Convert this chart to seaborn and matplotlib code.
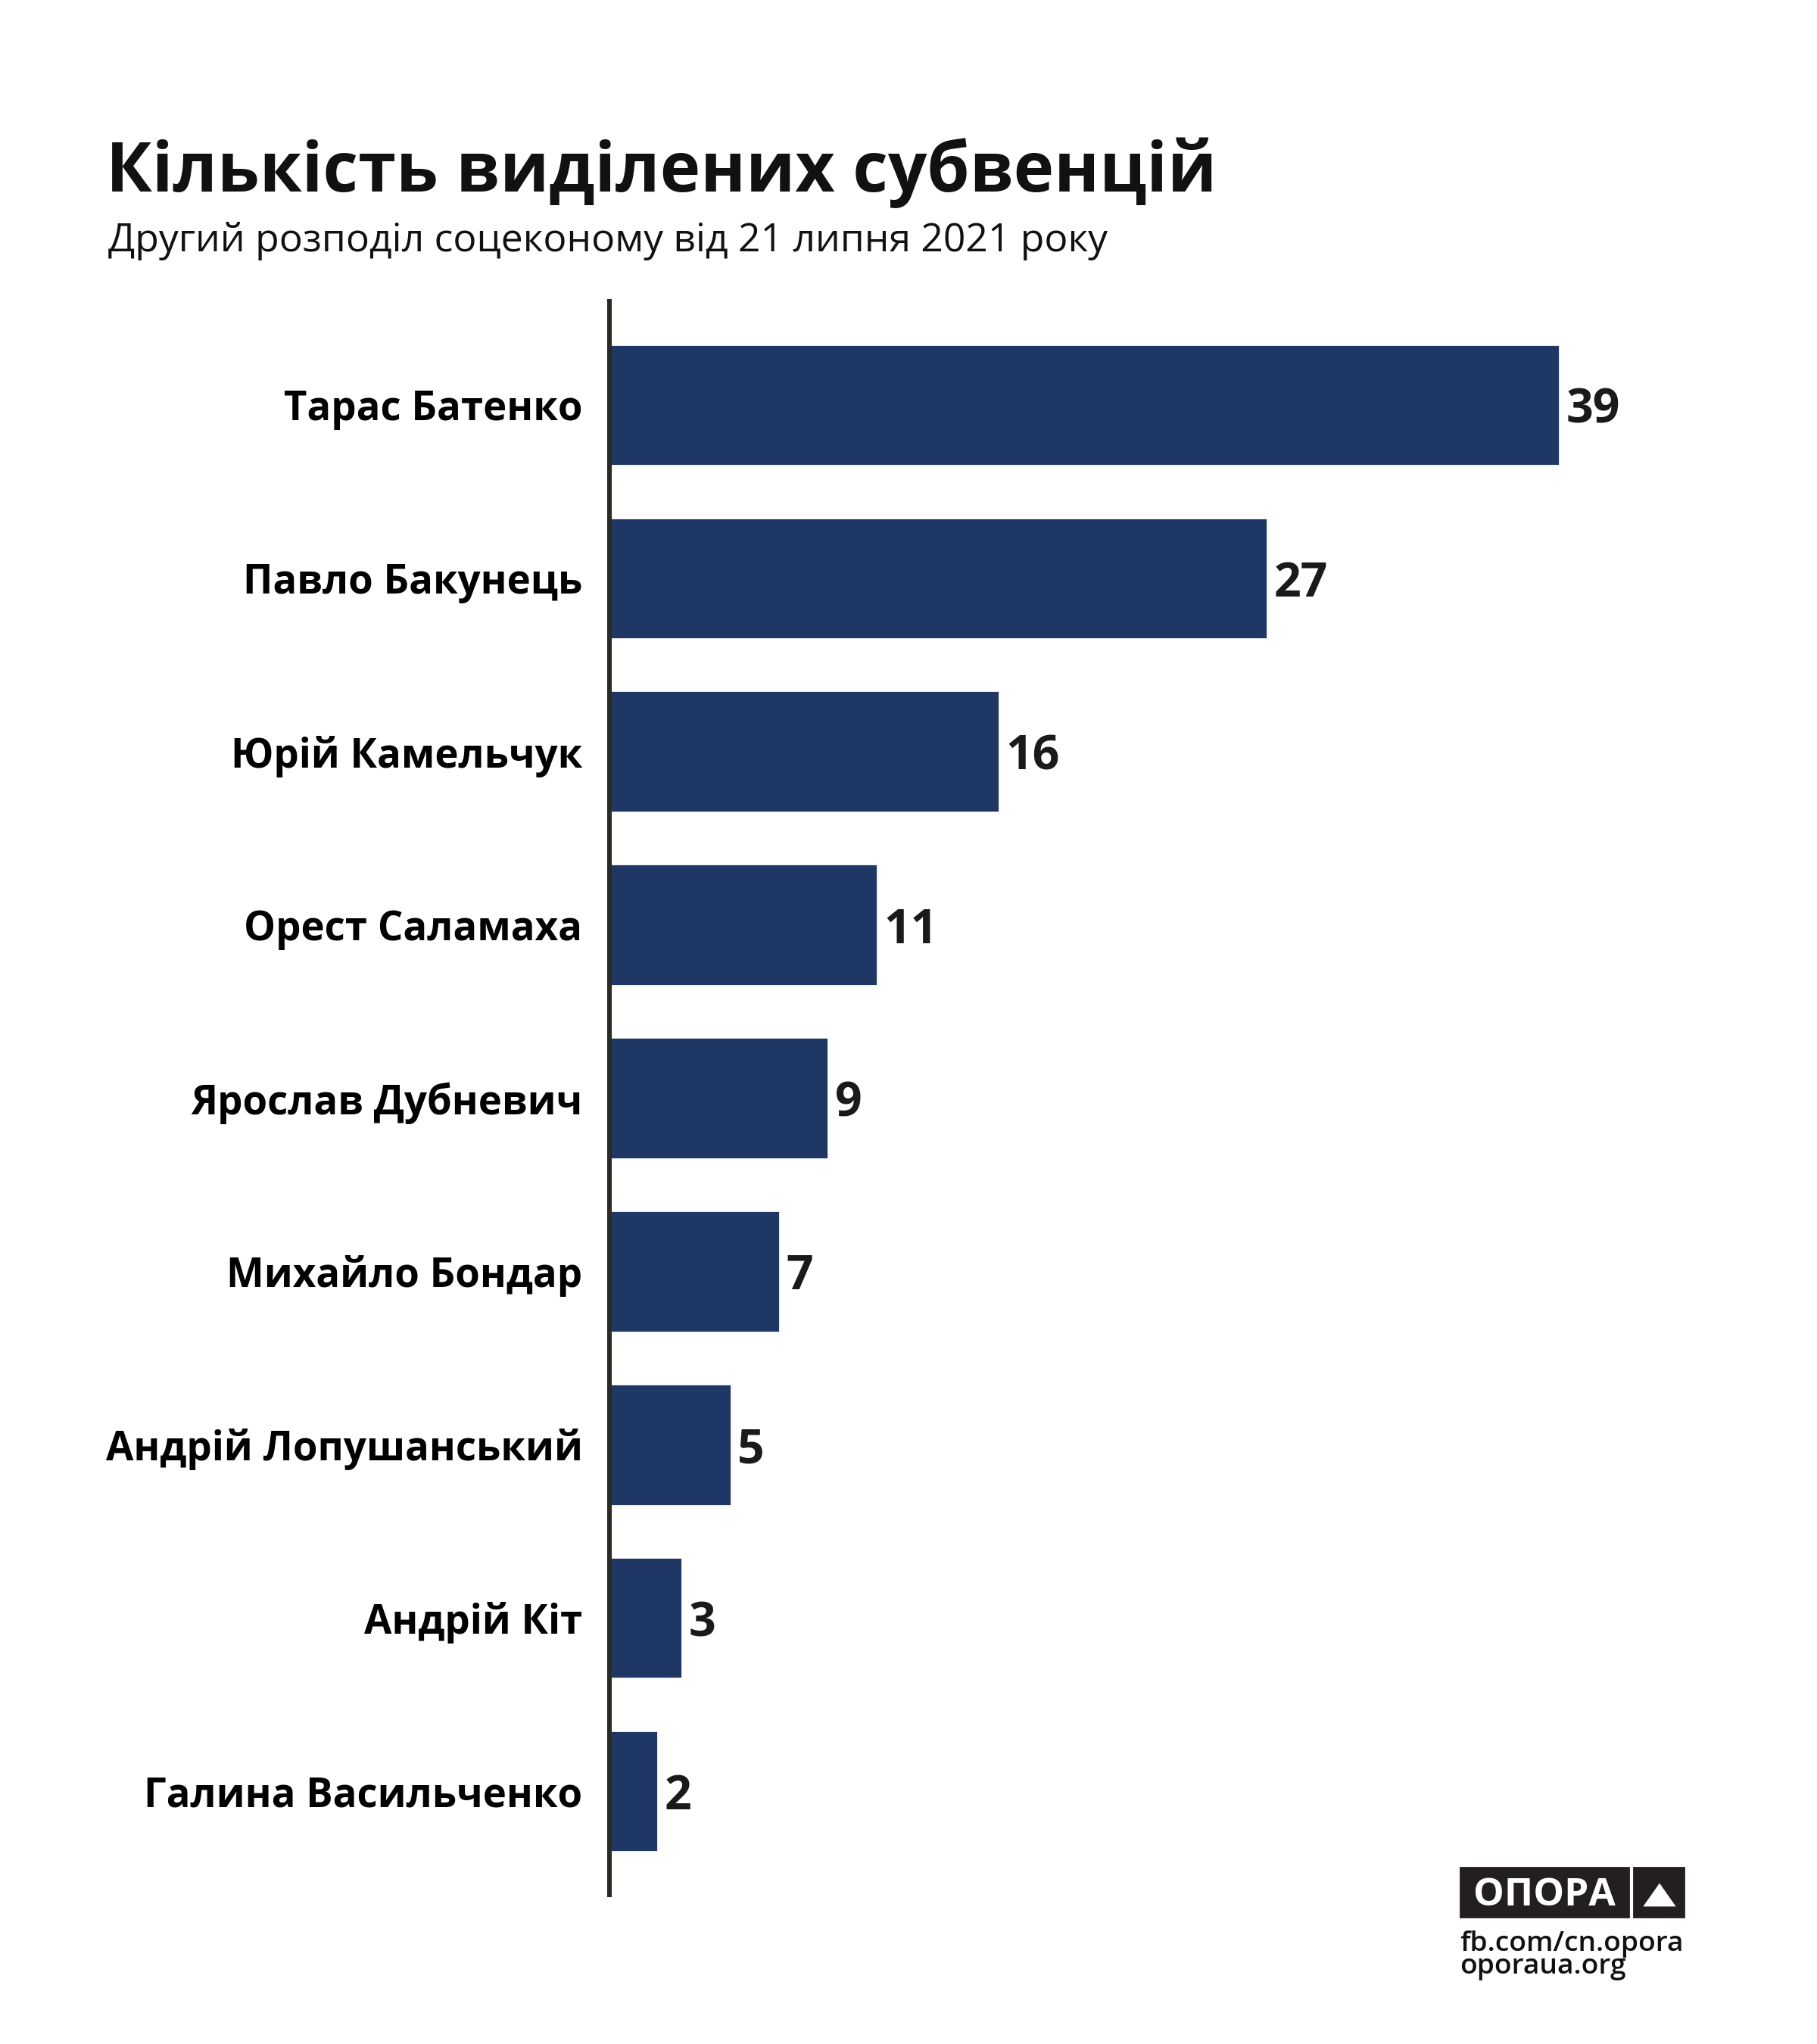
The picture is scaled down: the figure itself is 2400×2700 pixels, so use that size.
import matplotlib
matplotlib.use("Agg")
import matplotlib.pyplot as plt
import seaborn as sns
import pandas as pd
from matplotlib.patches import Rectangle, Polygon

names = ["Тарас Батенко", "Павло Бакунець", "Юрій Камельчук", "Орест Саламаха",
         "Ярослав Дубневич", "Михайло Бондар", "Андрій Лопушанський", "Андрій Кіт",
         "Галина Васильченко"]
values = [39, 27, 16, 11, 9, 7, 5, 3, 2]

title = "Кількість виділених субвенцій"
subtitle = "Другий розподіл соцеконому від 21 липня 2021 року"

BAR = "#1f3764"
TXT = "#1a1a1a"

sns.set_theme(style="white")
plt.rcParams["font.family"] = ["Open Sans", "DejaVu Sans"]

W, H = 2400, 2700
fig = plt.figure(figsize=(12, 13.5), dpi=200)
fig.patch.set_facecolor("white")

def fx(px):
    return px / W

def fy(py):
    return 1 - py / H

ax_left = 804.5
ax_top = 398
ax_bot = 2503
ax_right = 2300
ax = fig.add_axes([fx(ax_left), fy(ax_bot), (ax_right - ax_left) / W, (ax_bot - ax_top) / H])

df = pd.DataFrame({"name": names, "value": values})
sns.barplot(data=df, x="value", y="name", orient="h", color=BAR, saturation=1,
            width=0.7, ax=ax)
ax.set_xlim(0, (ax_right - ax_left) / 32.2)
ax.set_ylim(8.597, -0.597)
ax.set_xlabel("")
ax.set_ylabel("")
ax.set_xticks([])
for s in ["top", "right", "bottom"]:
    ax.spines[s].set_visible(False)
ax.spines["left"].set_color("#2a2b24")
ax.spines["left"].set_linewidth(2.2)
ax.spines["left"].set_zorder(5)
ax.tick_params(axis="y", length=0, pad=12.6)
for lab in ax.get_yticklabels():
    lab.set_fontweight("bold")
    lab.set_fontsize(19)
    lab.set_color("#000000")

for cont in ax.containers:
    anns = ax.bar_label(cont, labels=[str(v) for v in values], padding=3,
                        fontsize=22.5, fontweight="bold", color=TXT)
    for a in anns:
        a.set_verticalalignment("center_baseline")

fig.text(fx(140), fy(253), title, fontsize=32.6, fontweight="bold", color="#111111",
         ha="left", va="baseline")
fig.text(fx(143), fy(332), subtitle, fontsize=18.6, color="#111111",
         ha="left", va="baseline")

# logo
LOGO = "#231f20"
fig.patches.append(Rectangle((fx(1929), fy(2532)), (2151 - 1929) / W, (2532 - 2467) / H,
                             transform=fig.transFigure, color=LOGO, zorder=1))
fig.patches.append(Rectangle((fx(2158), fy(2532)), (2224 - 2158) / W, (2532 - 2467) / H,
                             transform=fig.transFigure, color=LOGO, zorder=1))
fig.patches.append(Polygon([(fx(2173), fy(2517)), (fx(2211), fy(2517)), (fx(2192), fy(2490))],
                           closed=True, transform=fig.transFigure, color="white", zorder=2))
fig.text(fx(2040), fy(2517), "ОПОРА", fontsize=18.5, fontweight="bold", color="white",
         ha="center", va="baseline", zorder=3)
fig.text(fx(1928), fy(2550), "fb.com/cn.opora\noporaua.org", fontsize=13.4,
         fontweight="semibold", color="#111111", ha="left", va="top", linespacing=0.78)

fig.savefig("out.png", dpi=200, facecolor="white")
